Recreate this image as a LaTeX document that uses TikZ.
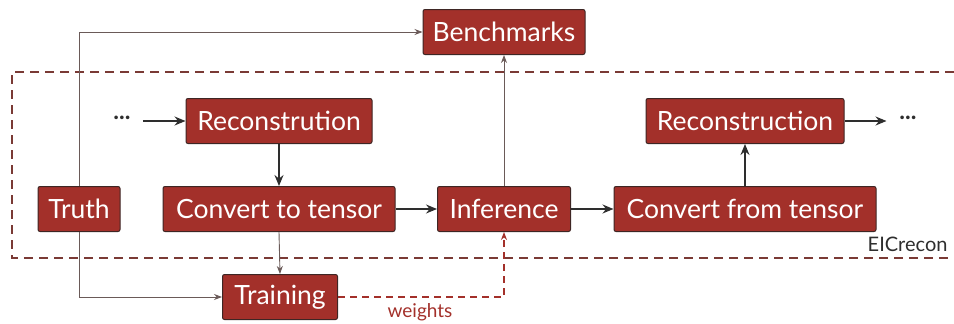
\documentclass[tikz,border=0pt]{standalone}
\usepackage{fontspec}
\setmainfont{Lato}
\usetikzlibrary{arrows.meta}
\definecolor{boxred}{HTML}{A3302A}
\definecolor{boxedge}{HTML}{3E2624}
\definecolor{frame}{HTML}{7A3A35}
\definecolor{thinline}{HTML}{6A5A58}
\definecolor{flowline}{HTML}{2E2E2E}
\tikzset{
  block/.style={draw=boxedge, line width=1pt, fill=boxred, rounded corners=2pt,
    text=white, font=\fontsize{26.5}{28}\selectfont, inner sep=0pt,
    minimum height=45pt},
  flow/.style={draw=flowline, line width=1.5pt, -{Stealth[length=11pt,width=9pt]}},
  thin/.style={draw=thinline, line width=0.9pt, -{Stealth[length=8pt,width=6pt]}},
  wdash/.style={draw=boxred, line width=1.3pt, dash pattern=on 7pt off 5pt,
    -{Stealth[length=8pt,width=6pt]}},
  dots/.style={font=\fontsize{24}{26}\selectfont, text=flowline, inner sep=0pt}
}
\begin{document}
\begin{tikzpicture}[x=1pt,y=-1pt]
\useasboundingbox (0,0) rectangle (954,324);
% EICrecon frame (open to the right)
\draw[frame, line width=1.5pt, dash pattern=on 9pt off 6pt]
  (954,72) -- (12,72) -- (12,258) -- (954,258);
\node[text=flowline, font=\fontsize{20}{22}\selectfont, anchor=base east] (eic) at (951,251) {EICrecon};
% processing blocks
\node[block, minimum width=162pt] (bench) at (504,32) {Benchmarks};
\node[block, minimum width=186pt] (recA) at (279,121) {Reconstrution};
\node[block, minimum width=82pt] (truth) at (79,209) {Truth};
\node[block, minimum width=232pt] (conv) at (279,209) {Convert to tensor};
\node[block, minimum width=133pt] (inf) at (504,209) {Inference};
\node[block, minimum width=262pt] (convb) at (745,209) {Convert from tensor};
\node[block, minimum width=198pt] (recB) at (745,121) {Reconstruction};
\node[block, minimum width=115pt] (train) at (280,297) {Training};
\node[dots] (dotsL) at (122,118) {\textbf{...}};
\node[dots] (dotsR) at (908,118) {\textbf{...}};
\coordinate (tU) at (79,32);
\coordinate (tD) at (79,297);
\coordinate (wC) at (504,297);
% main data flow
\draw[flow] (dotsL.east) ++(12,3) -- (recA.west);
\draw[flow] (recA) -- (conv);
\draw[flow] (conv) -- (inf);
\draw[flow] (inf) -- (convb);
\draw[flow] (convb) -- (recB);
\draw[flow] (recB.east) -- ++(42,0);
% side connections
\draw[thin] (truth.north) -- (tU) -- (bench.west);
\draw[thin] (truth.south) -- (tD) -- (train.west);
\draw[thin] (conv.south) -- (train.north);
\draw[thin] (inf.north) -- (bench.south);
\draw[wdash] (train.east) -- (wC) -- (inf.south);
\node[text=boxred, font=\fontsize{19}{21}\selectfont] (wlab) at (420,312) {weights};
\end{tikzpicture}
\end{document}
